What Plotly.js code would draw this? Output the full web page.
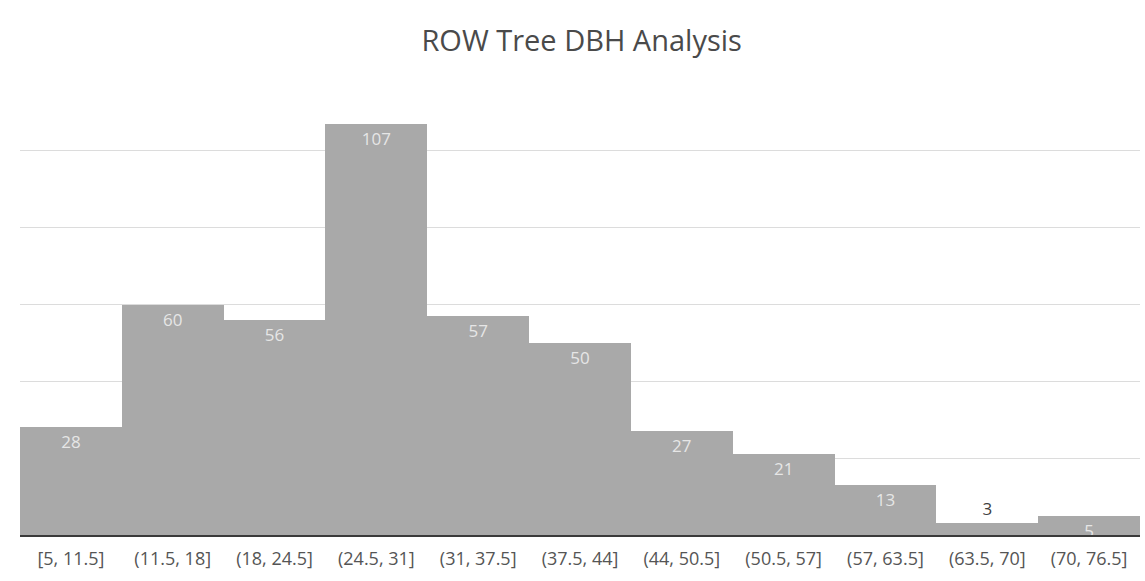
<!DOCTYPE html>
<html>
<head>
<meta charset="utf-8">
<script src="https://cdn.plot.ly/plotly-3.0.1.min.js"></script>
<style>html,body{margin:0;padding:0;background:#fff;}#chart{width:1145px;height:581px;}</style>
</head>
<body>
<div id="chart"></div>
<script>
const binLabels = ["[5, 11.5]", "(11.5, 18]", "(18, 24.5]", "(24.5, 31]", "(31, 37.5]", "(37.5, 44]", "(44, 50.5]", "(50.5, 57]", "(57, 63.5]", "(63.5, 70]", "(70, 76.5]"];
const counts = [28, 60, 56, 107, 57, 50, 27, 21, 13, 3, 5];
const labelColors = counts.map(v => v < 4 ? "#404040" : "#e6e6e6");
const labelPositions = counts.map(v => v < 4 ? "outside" : "inside");

const trace = {
  type: "bar",
  x: binLabels,
  y: counts,
  text: counts.map(String),
  textposition: labelPositions,
  insidetextanchor: "end",
  textangle: 0,
  constraintext: "none",
  cliponaxis: false,
  textfont: {family: "Open Sans, Liberation Sans, sans-serif", size: 17, color: labelColors},
  outsidetextfont: {family: "Open Sans, Liberation Sans, sans-serif", size: 17, color: "#404040"},
  marker: {color: "#a9a9a9", line: {width: 0}},
  hoverinfo: "x+y"
};

const layout = {
  width: 1145, height: 581,
  margin: {l: 20, r: 5, t: 74, b: 46},
  paper_bgcolor: "#ffffff",
  plot_bgcolor: "#ffffff",
  bargap: 0,
  showlegend: false,
  title: {text: "ROW Tree DBH Analysis", x: 0.508, xanchor: "center", y: 0.93, yanchor: "middle",
          font: {family: "Open Sans, Liberation Sans, sans-serif", size: 29, color: "#4a4a4a"}},
  xaxis: {type: "category", showgrid: false, showline: true, linecolor: "#3a3a3a", linewidth: 2,
          ticks: "", ticklabelstandoff: 6,
          tickfont: {family: "Open Sans, Liberation Sans, sans-serif", size: 18, color: "#555555"}},
  yaxis: {range: [0, 120], dtick: 20, showgrid: true, gridcolor: "#dcdcdc", gridwidth: 1,
          showticklabels: false, zeroline: false, showline: false, ticks: ""}
};

Plotly.newPlot("chart", [trace], layout, {displayModeBar: false, staticPlot: true});
</script>
</body>
</html>
